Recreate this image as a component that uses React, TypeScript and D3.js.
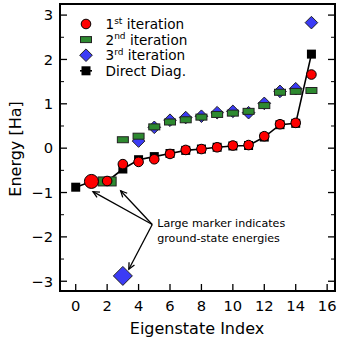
import * as d3 from 'd3';

// eigenstate energies [Ha]
const directIdx = [0, 1, 2, 3, 4, 5, 6, 7, 8, 9, 10, 11, 12, 13, 14, 15];
const directE = [-0.88, -0.75, -0.75, -0.47, -0.26, -0.19, -0.12, -0.05, -0.02, 0.02, 0.05, 0.06, 0.25, 0.53, 0.56, 2.12];

const firstIdx = [1, 2, 3, 4, 5, 6, 7, 8, 9, 10, 11, 12, 13, 14, 15];
const firstE = [-0.75, -0.74, -0.36, -0.31, -0.25, -0.13, -0.04, -0.02, 0.02, 0.06, 0.07, 0.27, 0.54, 0.57, 1.66];

const secondIdx = [2, 3, 4, 5, 6, 7, 8, 9, 10, 11, 12, 13, 14, 15];
const secondE = [-0.75, 0.19, 0.27, 0.48, 0.59, 0.64, 0.7, 0.76, 0.79, 0.83, 0.96, 1.26, 1.28, 1.3];

const thirdIdx = [3, 4, 5, 6, 7, 8, 9, 10, 11, 12, 13, 14, 15];
const thirdE = [-2.88, 0.16, 0.47, 0.63, 0.69, 0.72, 0.8, 0.83, 0.8, 1.01, 1.28, 1.34, 2.83];

// index of the ground state in each iterative series (drawn large)
const groundFirst = 1;
const groundSecond = 2;
const groundThird = 3;

const xTicks = [0, 2, 4, 6, 8, 10, 12, 14, 16];
const yTicks = [-3, -2, -1, 0, 1, 2, 3];
const yMinor = [-2.5, -1.5, -0.5, 0.5, 1.5, 2.5];

const legendLabels = [
  { base: '1', sup: 'st', rest: ' iteration' },
  { base: '2', sup: 'nd', rest: ' iteration' },
  { base: '3', sup: 'rd', rest: ' iteration' },
  { base: 'Direct Diag.', sup: '', rest: '' },
];

// annotation: arrow tail and heads in data coords
const noteTail: [number, number] = [4.87, -1.72];
const noteHeads: [number, number][] = [[1.1, -0.98], [2.86, -0.96], [3.38, -2.73]];
const noteLines = ['Large marker indicates', 'ground-state energies'];

const RED = '#ff0000';
const GREEN = '#2e8a30';
const BLUE = '#3b3bf5';
const FONT = '"DejaVu Sans", sans-serif';

const diamond = (cx: number, cy: number, r: number) =>
  `M${cx},${cy - r}L${cx + r},${cy}L${cx},${cy + r}L${cx - r},${cy}Z`;

export default function App() {
  const left = 60, right = 335, top = 4, bottom = 291;
  const x = d3.scaleLinear().domain([-1, 16.5]).range([left, right]);
  const y = d3.scaleLinear().domain([-3.22, 3.25]).range([bottom, top]);

  const line = d3.line<number>()
    .x((_, i) => x(directIdx[i]))
    .y(d => y(d));

  const arrow = (hx: number, hy: number, k: number) => {
    const tx = x(noteTail[0]), ty = y(noteTail[1]);
    const ang = Math.atan2(hy - ty, hx - tx);
    const L = 7, a = 0.45;
    const p1 = [hx - L * Math.cos(ang - a), hy - L * Math.sin(ang - a)];
    const p2 = [hx - L * Math.cos(ang + a), hy - L * Math.sin(ang + a)];
    return (
      <g key={k} stroke="#000" strokeWidth={1.3} fill="none">
        <line x1={tx} y1={ty} x2={hx} y2={hy} />
        <path d={`M${p1[0]},${p1[1]}L${hx},${hy}L${p2[0]},${p2[1]}`} />
      </g>
    );
  };

  return (
    <svg width={339} height={339} style={{ position: 'absolute', left: 0, top: 0 }} fontFamily={FONT}>
      <rect width={339} height={339} fill="#fff" />

      {/* direct diagonalisation */}
      <path d={line(directE) || ''} fill="none" stroke="#000" strokeWidth={1.6} />
      {directE.map((e, i) => (
        <rect key={'d' + i} x={x(directIdx[i]) - 4.5} y={y(e) - 4.5} width={9} height={9} fill="#000" />
      ))}

      {/* 3rd iteration */}
      {thirdE.map((e, i) => {
        const big = thirdIdx[i] === groundThird;
        return (
          <path key={'t' + i} d={diamond(x(thirdIdx[i]), y(e), big ? 9.5 : 6.3)}
            fill={BLUE} stroke="#222" strokeWidth={1} />
        );
      })}

      {/* 2nd iteration */}
      {secondE.map((e, i) => {
        const big = secondIdx[i] === groundSecond;
        const w = big ? 18 : 11, h = big ? 9 : 6;
        return (
          <rect key={'s' + i} x={x(secondIdx[i]) - w / 2} y={y(e) - h / 2} width={w} height={h}
            fill={GREEN} stroke="#222" strokeWidth={1} />
        );
      })}

      {/* 1st iteration */}
      {firstE.map((e, i) => {
        const big = firstIdx[i] === groundFirst;
        return (
          <circle key={'f' + i} cx={x(firstIdx[i])} cy={y(e)} r={big ? 7 : 4.8}
            fill={RED} stroke="#000" strokeWidth={1} />
        );
      })}

      {/* annotation */}
      {noteHeads.map((h, k) => arrow(x(h[0]), y(h[1]), k))}
      {noteLines.map((t, k) => (
        <text key={'n' + k} x={x(noteTail[0]) + 5} y={y(noteTail[1]) + 3 + k * 14.5} fontSize={11.1}>{t}</text>
      ))}

      {/* legend */}
      {legendLabels.map((l, k) => {
        const cy = 24 + k * 15.6;
        const mx = 86;
        let marker;
        if (k === 0) marker = <circle cx={mx} cy={cy} r={4.8} fill={RED} stroke="#000" />;
        else if (k === 1) marker = <rect x={mx - 5.5} y={cy - 3} width={11} height={6} fill={GREEN} stroke="#222" />;
        else if (k === 2) marker = <path d={diamond(mx, cy, 6.3)} fill={BLUE} stroke="#222" />;
        else marker = (
          <g>
            <line x1={mx - 6} x2={mx + 6} y1={cy} y2={cy} stroke="#000" strokeWidth={1.6} />
            <rect x={mx - 4.5} y={cy - 4.5} width={9} height={9} fill="#000" />
          </g>
        );
        return (
          <g key={'l' + k}>
            {marker}
            <text x={105.5} y={cy + 5} fontSize={13.6}>
              {l.base}
              {l.sup && <tspan dy={-5.5} fontSize={9}>{l.sup}</tspan>}
              {l.sup && <tspan dy={5.5}>{l.rest}</tspan>}
            </text>
          </g>
        );
      })}

      {/* axes frame */}
      <rect x={left} y={top} width={right - left} height={bottom - top} fill="none" stroke="#000" strokeWidth={2} />

      {xTicks.map(t => (
        <g key={'xt' + t}>
          <line x1={x(t)} x2={x(t)} y1={bottom} y2={bottom - 7} stroke="#000" strokeWidth={1.3} />
          <text x={x(t)} y={bottom + 20} fontSize={14.7} textAnchor="middle">{t}</text>
        </g>
      ))}
      {yTicks.map(t => (
        <g key={'yt' + t}>
          <line x1={left} x2={left + 7} y1={y(t)} y2={y(t)} stroke="#000" strokeWidth={1.3} />
          <line x1={right} x2={right - 7} y1={y(t)} y2={y(t)} stroke="#000" strokeWidth={1.3} />
          <text x={53} y={y(t) + 5.3} fontSize={14.7} textAnchor="end">{t < 0 ? '\u2212' + Math.abs(t) : t}</text>
        </g>
      ))}
      {yMinor.map(t => (
        <g key={'ym' + t}>
          <line x1={left} x2={left + 4} y1={y(t)} y2={y(t)} stroke="#000" strokeWidth={1} />
          <line x1={right} x2={right - 4} y1={y(t)} y2={y(t)} stroke="#000" strokeWidth={1} />
        </g>
      ))}

      <text x={197} y={334} fontSize={16} textAnchor="middle">Eigenstate Index</text>
      <text transform="translate(21,149) rotate(-90)" fontSize={16} textAnchor="middle">Energy [Ha]</text>
    </svg>
  );
}
